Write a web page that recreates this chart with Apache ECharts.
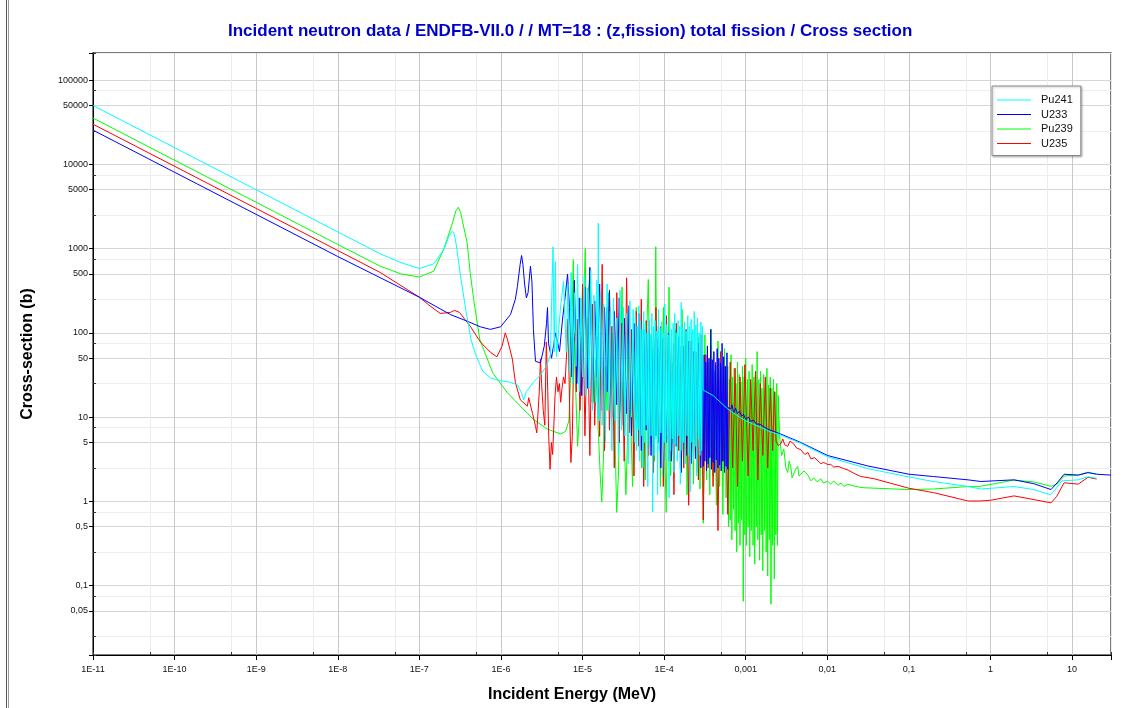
<!DOCTYPE html>
<html>
<head>
<meta charset="utf-8">
<script src="https://cdn.jsdelivr.net/npm/echarts@6/dist/echarts.min.js"></script>
<style>
  html, body { margin: 0; padding: 0; background: #fff; }
  #chart { width: 1129px; height: 708px; }
</style>
</head>
<body>
<div id="chart"></div>
<script>
// [energy (MeV), cross-section (b)]
const pu241 = [
  [1e-11, 50000], [1e-10, 15800], [1e-9, 5000], [1e-8, 1580], [3.3e-8, 870], [6e-8, 680],
  [1e-7, 580], [1.5e-7, 660], [2e-7, 980], [2.3e-7, 1400], [2.5e-7, 1600], [2.65e-7, 1550],
  [2.8e-7, 1200], [3.2e-7, 470], [3.7e-7, 190], [4.3e-7, 83], [5e-7, 52], [6e-7, 35],
  [7.5e-7, 29], [1e-6, 27], [1.3e-6, 26], [1.6e-6, 24], [1.8e-6, 19], [1.9e-6, 16],
  [2.05e-6, 20], [2.5e-6, 26], [3e-6, 31], [3.6e-6, 40], [4.05e-6, 55], [4.2e-6, 300],
  [4.35e-6, 1050], [4.5e-6, 60], [4.65e-6, 700], [4.8e-6, 52], [5.1e-6, 110], [5.4e-6, 210],
  [5.85e-6, 410],
  [6.03e-6, 420], [6.31e-6, 60], [6.61e-6, 380], [6.92e-6, 35], [7.24e-6, 520], [7.59e-6, 25],
  [7.94e-6, 300], [8.32e-6, 40], [8.71e-6, 650], [9.12e-6, 20], [9.55e-6, 260], [1.00e-5, 30],
  [1.05e-5, 480], [1.10e-5, 18], [1.15e-5, 340], [1.20e-5, 22], [1.26e-5, 550], [1.32e-5, 12],
  [1.38e-5, 280], [1.45e-5, 15], [1.50e-5, 420], [1.53e-5, 10], [1.56e-5, 2000], [1.60e-5, 9],
  [1.66e-5, 300], [1.74e-5, 8], [1.82e-5, 220], [1.91e-5, 5], [2.00e-5, 380], [2.09e-5, 12],
  [2.19e-5, 180], [2.29e-5, 4], [2.40e-5, 260], [2.51e-5, 9], [2.63e-5, 150], [2.75e-5, 3.5],
  [2.88e-5, 320], [3.02e-5, 7], [3.16e-5, 200], [3.31e-5, 6], [3.47e-5, 170], [3.63e-5, 2.8],
  [3.80e-5, 240], [3.98e-5, 10], [4.17e-5, 190], [4.37e-5, 5],
  [4.47e-5, 160], [4.57e-5, 4], [4.68e-5, 120], [4.79e-5, 7], [4.90e-5, 210], [5.01e-5, 3],
  [5.13e-5, 140], [5.25e-5, 6], [5.37e-5, 110], [5.50e-5, 2.5], [5.62e-5, 180], [5.75e-5, 5],
  [5.89e-5, 130], [6.03e-5, 8], [6.17e-5, 100], [6.31e-5, 1.5], [6.46e-5, 150], [6.61e-5, 4.5],
  [6.76e-5, 95], [6.92e-5, 6], [7.08e-5, 170], [7.24e-5, 0.75], [7.41e-5, 120], [7.59e-5, 3.5],
  [7.76e-5, 140], [7.94e-5, 5.5], [8.13e-5, 105], [8.32e-5, 1.2], [8.51e-5, 190], [8.71e-5, 4],
  [8.91e-5, 115], [9.12e-5, 6.5], [9.33e-5, 135], [9.55e-5, 2], [9.77e-5, 100], [1.00e-4, 5],
  [1.02e-4, 220], [1.05e-4, 3], [1.07e-4, 125], [1.10e-4, 6], [1.12e-4, 95], [1.15e-4, 1.1],
  [1.17e-4, 150], [1.20e-4, 4], [1.23e-4, 110], [1.26e-4, 5.5], [1.29e-4, 130], [1.32e-4, 2.2],
  [1.35e-4, 170], [1.38e-4, 4.8], [1.41e-4, 100], [1.45e-4, 3], [1.48e-4, 140], [1.52e-4, 6],
  [1.55e-4, 120], [1.58e-4, 1.6], [1.62e-4, 230], [1.66e-4, 4], [1.70e-4, 115], [1.74e-4, 5],
  [1.78e-4, 135], [1.82e-4, 2.8], [1.86e-4, 105], [1.91e-4, 6], [1.95e-4, 160], [2.00e-4, 3.5],
  [2.04e-4, 120], [2.09e-4, 1.3], [2.14e-4, 145], [2.19e-4, 5], [2.24e-4, 110], [2.29e-4, 3],
  [2.34e-4, 180], [2.40e-4, 4.5], [2.45e-4, 125], [2.51e-4, 2], [2.57e-4, 150], [2.63e-4, 5.5],
  [2.69e-4, 100], [2.75e-4, 3.5], [2.82e-4, 135], [2.88e-4, 4], [2.95e-4, 120],
  [3.0e-4, 21], [4e-4, 18], [6e-4, 12.5], [8e-4, 10.3], [1e-3, 9], [1.5e-3, 7.6], [2e-3, 6.7],
  [2.7e-3, 6.1], [4.7e-3, 4.9], [1e-2, 3.4], [3.1e-2, 2.45], [0.1, 1.95], [0.2, 1.72],
  [0.53, 1.5], [0.76, 1.4], [1.94, 1.5], [3.4, 1.38], [4.7, 1.25], [5.5, 1.2], [6.3, 1.4],
  [7.5, 1.75], [11.9, 1.8], [15.7, 1.96], [20, 1.88]
];

const u233 = [
  [1e-11, 25500], [1e-10, 8060], [1e-9, 2550], [1e-8, 806], [1e-7, 265], [2.4e-7, 165],
  [3.9e-7, 137], [5.6e-7, 118], [7.4e-7, 110], [9.9e-7, 118], [1.31e-6, 165], [1.5e-6, 250],
  [1.59e-6, 355], [1.72e-6, 650], [1.79e-6, 830], [1.86e-6, 650], [1.95e-6, 380], [2.05e-6, 260],
  [2.15e-6, 300], [2.3e-6, 620], [2.4e-6, 400], [2.5e-6, 110], [2.65e-6, 46], [3.05e-6, 44],
  [3.4e-6, 70], [3.62e-6, 130], [3.72e-6, 200], [3.83e-6, 75], [4.17e-6, 50], [4.67e-6, 100],
  [5.22e-6, 60], [5.69e-6, 146], [6.2e-6, 300], [6.55e-6, 500], [6.92e-6, 200],
  [7.41e-6, 30], [7.94e-6, 420], [8.51e-6, 25], [9.12e-6, 260], [9.77e-6, 18], [1.07e-5, 350],
  [1.15e-5, 22], [1.23e-5, 600], [1.32e-5, 15], [1.41e-5, 240], [1.51e-5, 30], [1.62e-5, 380],
  [1.74e-5, 12], [1.86e-5, 200], [2.00e-5, 20], [2.14e-5, 320], [2.29e-5, 10], [2.45e-5, 180],
  [2.63e-5, 14], [2.82e-5, 260], [3.02e-5, 8], [3.24e-5, 150], [3.47e-5, 11], [3.72e-5, 210],
  [3.98e-5, 6], [4.27e-5, 130], [4.57e-5, 9], [4.90e-5, 170], [5.25e-5, 4], [5.62e-5, 110],
  [6.03e-5, 7], [6.46e-5, 140], [6.92e-5, 3.5], [7.41e-5, 95], [7.94e-5, 6], [8.51e-5, 120],
  [9.12e-5, 2.5], [9.77e-5, 85], [1.07e-4, 5], [1.15e-4, 100], [1.23e-4, 3], [1.32e-4, 75],
  [1.41e-4, 4.5], [1.51e-4, 90], [1.62e-4, 2.2], [1.74e-4, 70], [1.86e-4, 3.5], [2.00e-4, 80],
  [2.14e-4, 2.8], [2.29e-4, 60], [2.45e-4, 3.2], [2.63e-4, 75], [2.82e-4, 2.5], [2.95e-4, 55],
  [3.02e-4, 2.6], [3.09e-4, 55], [3.16e-4, 3], [3.24e-4, 45], [3.31e-4, 2.3], [3.39e-4, 70],
  [3.47e-4, 2.8], [3.55e-4, 50], [3.63e-4, 3.3], [3.72e-4, 110], [3.80e-4, 2.4], [3.89e-4, 48],
  [3.98e-4, 2.9], [4.07e-4, 60], [4.17e-4, 2.2], [4.27e-4, 42], [4.37e-4, 3.1], [4.47e-4, 65],
  [4.57e-4, 2.5], [4.68e-4, 50], [4.79e-4, 2.7], [4.90e-4, 44], [5.01e-4, 2.3], [5.13e-4, 75],
  [5.25e-4, 3], [5.37e-4, 52], [5.50e-4, 2.2], [5.62e-4, 40], [5.75e-4, 2.6], [5.89e-4, 58],
  [6.03e-4, 2.4],
  [6.1e-4, 13], [6.55e-4, 12.5], [6.8e-4, 14], [7.1e-4, 11.2], [7.5e-4, 12.8], [7.9e-4, 11],
  [8.4e-4, 11.8], [8.9e-4, 10.2], [9.4e-4, 10.8], [1e-3, 9.4], [1.08e-3, 10], [1.15e-3, 8.9],
  [1.25e-3, 9.2], [1.35e-3, 8.3], [1.5e-3, 8.2], [1.86e-3, 7.2], [2.69e-3, 6.3], [4.73e-3, 5.0],
  [1.01e-2, 3.5], [3.14e-2, 2.63], [0.1, 2.1], [0.2, 1.97], [0.53, 1.8], [0.76, 1.72],
  [1.94, 1.8], [3.4, 1.62], [5.52, 1.38], [6.7, 1.7], [7.98, 2.1], [11.9, 2.05], [15.7, 2.19],
  [20, 2.1], [30, 2.05]
];

const pu239 = [
  [1e-11, 35500], [1e-10, 11200], [1e-9, 3550], [1e-8, 1120], [3.3e-8, 620], [6e-8, 500],
  [1e-7, 460], [1.5e-7, 540], [2e-7, 1000], [2.5e-7, 1900], [2.8e-7, 2800], [3.0e-7, 3100],
  [3.2e-7, 2700], [3.5e-7, 1800], [3.85e-7, 1180], [4.2e-7, 520], [4.63e-7, 250], [5.5e-7, 84],
  [6.8e-7, 49], [8e-7, 33], [1.2e-6, 19.5], [1.73e-6, 13.5], [2.5e-6, 9.4], [3.7e-6, 7.2],
  [5.4e-6, 6.3], [6.2e-6, 6.8], [6.8e-6, 9],
  [7.1e-6, 25], [7.5e-6, 200], [7.7e-6, 740], [8.0e-6, 50], [8.7e-6, 4.5], [9.5e-6, 20],
  [1.0e-5, 60], [1.08e-5, 1000], [1.12e-5, 30], [1.17e-5, 300], [1.25e-5, 560], [1.3e-5, 60],
  [1.38e-5, 15], [1.45e-5, 50], [1.55e-5, 8], [1.65e-5, 2], [1.72e-5, 0.98], [1.8e-5, 3],
  [1.9e-5, 40], [2.0e-5, 12], [2.1e-5, 300], [2.25e-5, 20], [2.35e-5, 100], [2.5e-5, 6],
  [2.62e-5, 0.74], [2.75e-5, 2], [2.9e-5, 30], [3.05e-5, 350], [3.2e-5, 10], [3.4e-5, 1.2],
  [3.55e-5, 5], [3.75e-5, 150], [3.95e-5, 6], [4.1e-5, 1.5], [4.3e-5, 25], [4.55e-5, 200],
  [4.8e-5, 8], [5.05e-5, 90], [5.3e-5, 2.5], [5.6e-5, 40], [5.9e-5, 1.8], [6.15e-5, 120],
  [6.4e-5, 430], [6.7e-5, 15], [7.0e-5, 90], [7.3e-5, 30], [7.6e-5, 3], [7.9e-5, 1050],
  [8.2e-5, 7], [8.6e-5, 60], [9.0e-5, 1.5], [9.4e-5, 25], [9.8e-5, 200], [1.02e-4, 4],
  [1.06e-4, 0.74], [1.1e-4, 15], [1.15e-4, 350], [1.2e-4, 2], [1.26e-4, 45], [1.32e-4, 3],
  [1.38e-4, 110], [1.45e-4, 5], [1.52e-4, 80], [1.58e-4, 2.5], [1.66e-4, 190], [1.74e-4, 4],
  [1.82e-4, 70], [1.91e-4, 1.2], [2.0e-4, 60], [2.09e-4, 3], [2.19e-4, 100], [2.29e-4, 1.6],
  [2.4e-4, 55], [2.51e-4, 2.2], [2.63e-4, 90], [2.75e-4, 1.4], [2.88e-4, 40], [3.02e-4, 0.55],
  [3.16e-4, 95], [3.31e-4, 1.8], [3.47e-4, 45], [3.63e-4, 1.2], [3.8e-4, 110], [3.98e-4, 2],
  [4.17e-4, 35], [4.37e-4, 0.9], [4.57e-4, 80], [4.79e-4, 1.5], [5.01e-4, 40], [5.25e-4, 0.7],
  [5.5e-4, 65], [5.75e-4, 1.1],
  [6.03e-4, 40], [6.17e-4, 0.5], [6.31e-4, 28], [6.46e-4, 0.6], [6.61e-4, 55], [6.76e-4, 0.35],
  [6.92e-4, 30], [7.08e-4, 0.8], [7.24e-4, 38], [7.41e-4, 0.45], [7.59e-4, 25], [7.76e-4, 0.25],
  [7.94e-4, 45], [8.13e-4, 0.55], [8.32e-4, 32], [8.51e-4, 0.3], [8.71e-4, 26], [8.91e-4, 0.6],
  [9.12e-4, 40], [9.33e-4, 0.065], [9.55e-4, 30], [9.77e-4, 0.4], [1.00e-3, 50], [1.02e-3, 0.3],
  [1.05e-3, 28], [1.07e-3, 0.5], [1.10e-3, 35], [1.12e-3, 0.22], [1.15e-3, 24], [1.17e-3, 0.45],
  [1.20e-3, 42], [1.23e-3, 0.3], [1.26e-3, 30], [1.29e-3, 0.18], [1.32e-3, 25], [1.35e-3, 0.5],
  [1.38e-3, 60], [1.41e-3, 0.35], [1.45e-3, 28], [1.48e-3, 0.2], [1.52e-3, 35], [1.55e-3, 0.4],
  [1.58e-3, 22], [1.62e-3, 0.15], [1.66e-3, 32], [1.70e-3, 0.45], [1.74e-3, 26], [1.78e-3, 0.25],
  [1.82e-3, 38], [1.86e-3, 0.13], [1.91e-3, 24], [1.95e-3, 0.35], [2.00e-3, 30], [2.04e-3, 0.06],
  [2.09e-3, 22], [2.14e-3, 0.3], [2.19e-3, 28], [2.24e-3, 0.12], [2.29e-3, 20], [2.34e-3, 0.4],
  [2.40e-3, 25], [2.45e-3, 0.3], [2.51e-3, 18],
  [2.6e-3, 6], [2.75e-3, 3.5], [2.93e-3, 4.2], [3.1e-3, 2.5], [3.27e-3, 2.2], [3.4e-3, 3],
  [3.57e-3, 2.6], [3.7e-3, 1.9], [3.88e-3, 1.8], [4.1e-3, 2.4], [4.34e-3, 2.6], [4.5e-3, 2],
  [4.73e-3, 1.95], [5.2e-3, 2.3], [5.77e-3, 2.05], [6.3e-3, 1.75], [6.83e-3, 1.9], [7.5e-3, 1.7],
  [8.32e-3, 1.85], [9e-3, 1.65], [1.01e-2, 1.73], [1.1e-2, 1.6], [1.2e-2, 1.75], [1.35e-2, 1.55],
  [1.47e-2, 1.65], [1.6e-2, 1.5], [1.79e-2, 1.6], [2.12e-2, 1.52], [2.5e-2, 1.47], [2.81e-2, 1.45],
  [4.94e-2, 1.42], [0.097, 1.38], [0.2, 1.4], [0.53, 1.5], [0.76, 1.51], [1.94, 1.79],
  [3.4, 1.7], [5.52, 1.51], [6.5, 1.6], [8, 2.0], [11.9, 2.05], [15.7, 2.22], [20, 2.1]
];

const u235 = [
  [1e-11, 30000], [1e-10, 9500], [1e-9, 3000], [1e-8, 950], [3.3e-8, 522], [1e-7, 265],
  [1.3e-7, 215], [1.8e-7, 170], [2.4e-7, 175], [2.7e-7, 185], [3.1e-7, 175], [4.2e-7, 120],
  [5.6e-7, 78], [7.4e-7, 59], [8.9e-7, 52], [1.03e-6, 69], [1.13e-6, 100], [1.2e-6, 84],
  [1.38e-6, 49], [1.5e-6, 26], [1.73e-6, 16], [2.11e-6, 13.5], [2.19e-6, 17], [2.44e-6, 11],
  [2.65e-6, 7.8],
  [2.75e-6, 6.5], [2.95e-6, 20], [3.05e-6, 49], [3.15e-6, 25], [3.3e-6, 12], [3.45e-6, 8],
  [3.6e-6, 78], [3.75e-6, 20], [3.85e-6, 6], [4.0e-6, 2.4], [4.15e-6, 5], [4.3e-6, 3.6],
  [4.45e-6, 8], [4.6e-6, 18], [4.8e-6, 30], [5.0e-6, 20], [5.2e-6, 25], [5.4e-6, 15],
  [5.6e-6, 22], [5.85e-6, 30], [6.1e-6, 25], [6.4e-6, 60], [6.6e-6, 146], [6.8e-6, 40],
  [7.0e-6, 9], [7.2e-6, 2.9], [7.5e-6, 6], [7.8e-6, 70], [8.1e-6, 100], [8.4e-6, 20],
  [8.7e-6, 146], [9.0e-6, 50], [9.3e-6, 12], [9.6e-6, 40],
  [1.00e-5, 380], [1.07e-5, 6], [1.15e-5, 150], [1.23e-5, 3.5], [1.32e-5, 220], [1.41e-5, 8],
  [1.51e-5, 90], [1.62e-5, 5.9], [1.74e-5, 650], [1.86e-5, 4], [2.00e-5, 200], [2.14e-5, 7],
  [2.29e-5, 120], [2.45e-5, 2.5], [2.63e-5, 300], [2.82e-5, 5], [3.02e-5, 130], [3.24e-5, 3],
  [3.47e-5, 450], [3.72e-5, 6.5], [3.98e-5, 110], [4.27e-5, 2], [4.57e-5, 180], [4.90e-5, 4.5],
  [5.25e-5, 250], [5.62e-5, 1.5], [6.03e-5, 140], [6.46e-5, 3.5], [6.92e-5, 95], [7.41e-5, 2.2],
  [7.94e-5, 200], [8.51e-5, 5], [9.12e-5, 120], [9.77e-5, 1.5],
  [1.07e-4, 160], [1.15e-4, 3], [1.23e-4, 90], [1.32e-4, 1.2], [1.41e-4, 130], [1.51e-4, 4],
  [1.62e-4, 70], [1.74e-4, 2.5], [1.86e-4, 110], [2.00e-4, 0.9], [2.14e-4, 80], [2.29e-4, 3],
  [2.45e-4, 60], [2.63e-4, 1.8], [2.82e-4, 95], [3.02e-4, 0.6], [3.24e-4, 55], [3.47e-4, 2.5],
  [3.72e-4, 70], [3.98e-4, 1.5], [4.27e-4, 45], [4.57e-4, 0.45], [4.90e-4, 60], [5.25e-4, 3],
  [5.62e-4, 40], [6.03e-4, 0.7], [6.46e-4, 45], [6.92e-4, 2.5], [7.41e-4, 38], [7.94e-4, 1.5],
  [8.51e-4, 30], [9.12e-4, 3], [9.77e-4, 42],
  [1.07e-3, 2], [1.15e-3, 28], [1.23e-3, 4], [1.32e-3, 35], [1.41e-3, 1.8], [1.51e-3, 25],
  [1.62e-3, 3.5], [1.74e-3, 30], [1.86e-3, 2.5], [2.00e-3, 22], [2.14e-3, 4], [2.25e-3, 20],
  [2.35e-3, 5.2], [2.5e-3, 4.6], [2.69e-3, 4.8], [2.85e-3, 5.5], [3e-3, 4.7], [3.27e-3, 4.5],
  [3.5e-3, 5.2], [3.88e-3, 4.8], [4.2e-3, 4.3], [4.73e-3, 4.1], [5.3e-3, 3.6], [5.8e-3, 3.8],
  [6.28e-3, 3.2], [7e-3, 3.3], [8.32e-3, 2.8], [9e-3, 2.9], [1.01e-2, 2.74], [1.1e-2, 2.75],
  [1.2e-2, 2.55], [1.35e-2, 2.6], [1.59e-2, 2.45], [1.8e-2, 2.35], [2.12e-2, 2.15],
  [2.58e-2, 1.97], [3.72e-2, 1.86], [0.1, 1.43], [0.2, 1.27], [0.53, 1.01], [0.76, 1.01],
  [1.0, 1.03], [1.94, 1.16], [3.4, 1.05], [5.52, 0.96], [6.5, 1.15], [7.98, 1.66],
  [11.9, 1.6], [15.7, 1.93], [20, 1.84]
];

const legendNames = ['Pu241', 'U233', 'Pu239', 'U235'];
const xRange = [1e-11, 30];
const yRange = [0.015, 210000];

function pow10Exp(v) {
  const e = Math.log10(v);
  return Math.abs(e - Math.round(e)) < 1e-6 ? Math.round(e) : null;
}
function decimalComma(mant, e) {
  return '0,' + '0'.repeat(-e - 1) + mant;
}
function energyLabel(v) {
  const e = pow10Exp(v);
  if (e === null) return '';
  if (e <= -4) return '1E' + e;
  if (e < 0) return decimalComma(1, e);
  return String(Math.round(Math.pow(10, e)));
}
// log axes step one decade at a time only up to ~10 decades, so the energy
// axis is laid out as two base-100 axes: even decades and odd decades
function xLabel(shift) {
  return function (v) {
    const e = pow10Exp(v);
    if (e === null || e % 2 !== 0) return '';
    return energyLabel(v / shift);
  };
}
function yLabel(mult) {
  return function (v) {
    const e = pow10Exp(v);
    if (e === null) return '';
    if (e < 0) return decimalComma(mult, e);
    return String(Math.round(mult * Math.pow(10, e)));
  };
}

const labelFont = { fontFamily: 'Liberation Sans', fontSize: 9, color: '#111' };
const nameFont = { fontWeight: 'bold', fontSize: 16, color: '#000', fontFamily: 'Liberation Sans' };

function energyAxis(shift, opts) {
  return Object.assign({
    type: 'log',
    logBase: 100,
    min: xRange[0] * shift,
    max: xRange[1] * shift,
    position: 'bottom',
    axisLine: { show: false },
    axisLabel: { show: false },
    axisTick: { show: false },
    splitLine: { show: true, lineStyle: { color: '#ececec', width: 1 } },
    silent: true
  }, opts);
}
function sigmaAxis(factor, opts) {
  return Object.assign({
    type: 'log',
    logBase: 10,
    min: yRange[0] / factor,
    max: yRange[1] / factor,
    position: 'left',
    axisLine: { show: false },
    axisLabel: { show: false },
    axisTick: { show: false },
    splitLine: { show: true, lineStyle: { color: '#efefef', width: 1 } },
    silent: true
  }, opts);
}

const majorXTick = { show: true, length: 5, lineStyle: { color: '#000' } };
const minorXTick = { show: true, inside: true, length: 3, lineStyle: { color: '#333' } };
const majorXLabel = Object.assign({ margin: 10 }, labelFont);

const chart = echarts.init(document.getElementById('chart'), null, { renderer: 'canvas' });

chart.setOption({
  animation: false,
  backgroundColor: '#fff',
  title: {
    text: 'Incident neutron data / ENDFB-VII.0 / / MT=18 : (z,fission) total fission / Cross section',
    left: 223,
    top: 18,
    textStyle: { color: '#0000cc', fontSize: 17, fontWeight: 'bold', fontFamily: 'Liberation Sans' }
  },
  legend: {
    data: legendNames,
    orient: 'vertical',
    left: 992,
    top: 86,
    icon: 'rect',
    itemWidth: 34,
    itemHeight: 1,
    itemGap: 2.5,
    padding: [8, 8, 6, 5],
    borderColor: '#8a8a8a',
    borderWidth: 1,
    backgroundColor: '#fff',
    shadowColor: 'rgba(0,0,0,0.25)',
    shadowOffsetX: 1,
    shadowOffsetY: 1,
    shadowBlur: 2,
    textStyle: { fontSize: 11, lineHeight: 12, color: '#111', fontFamily: 'Liberation Sans', padding: [0, 0, 0, 5] }
  },
  grid: {
    left: 93, top: 53, right: 18, bottom: 52,
    show: true, borderColor: '#505050', borderWidth: 1.5, backgroundColor: '#fff'
  },
  xAxis: [
    energyAxis(1, {
      name: 'Incident Energy (MeV)', nameLocation: 'middle', nameGap: 32,
      nameTextStyle: Object.assign({ padding: [0, 60, 0, 0] }, nameFont),
      axisLine: { show: true, lineStyle: { color: '#000', width: 1 } },
      axisTick: majorXTick,
      axisLabel: Object.assign({ formatter: xLabel(1) }, majorXLabel),
      splitLine: { show: true, lineStyle: { color: '#c8c8c8', width: 1 } }
    }),
    energyAxis(10, {
      axisTick: majorXTick,
      axisLabel: Object.assign({ formatter: xLabel(10) }, majorXLabel),
      splitLine: { show: true, lineStyle: { color: '#c8c8c8', width: 1 } }
    }),
    energyAxis(1 / 5, { axisTick: minorXTick }),
    energyAxis(2, { axisTick: minorXTick })
  ],
  yAxis: [
    sigmaAxis(1, {
      name: 'Cross-section (b)', nameLocation: 'middle', nameGap: 57, nameRotate: 90,
      nameTextStyle: nameFont,
      axisLine: { show: true, lineStyle: { color: '#000', width: 1 } },
      axisTick: { show: true, length: 4, lineStyle: { color: '#000' } },
      axisLabel: Object.assign({ formatter: yLabel(1), margin: 5 }, labelFont),
      splitLine: { show: true, lineStyle: { color: '#d6d6d6', width: 1 } }
    }),
    sigmaAxis(5, {
      axisTick: { show: true, length: 4, lineStyle: { color: '#000' } },
      axisLabel: Object.assign({ formatter: yLabel(5), margin: 5 }, labelFont),
      splitLine: { show: true, lineStyle: { color: '#d6d6d6', width: 1 } }
    }),
    sigmaAxis(2.5, { axisTick: { show: true, inside: true, length: 3, lineStyle: { color: '#333' } } }),
    sigmaAxis(7.5, { axisTick: { show: true, inside: true, length: 3, lineStyle: { color: '#333' } } })
  ],
  graphic: [
    { type: 'line', shape: { x1: 6.5, y1: 0, x2: 6.5, y2: 708 }, style: { stroke: '#555', lineWidth: 1 } },
    { type: 'line', shape: { x1: 8.5, y1: 0, x2: 8.5, y2: 708 }, style: { stroke: '#999', lineWidth: 1 } }
  ],
  series: [
    { name: 'Pu239', type: 'line', data: pu239, color: '#00ff00' },
    { name: 'U235', type: 'line', data: u235, color: '#ff0000' },
    { name: 'U233', type: 'line', data: u233, color: '#0000ff' },
    { name: 'Pu241', type: 'line', data: pu241, color: '#00ffff' }
  ].map((s) => Object.assign(s, {
    xAxisIndex: 0,
    yAxisIndex: 0,
    symbol: 'none',
    showSymbol: false,
    sampling: 'none',
    progressive: 0,
    lineStyle: { width: 1, color: s.color },
    itemStyle: { color: s.color },
    emphasis: { disabled: true },
    clip: true
  }))
});

window.addEventListener('resize', () => chart.resize());
</script>
</body>
</html>
